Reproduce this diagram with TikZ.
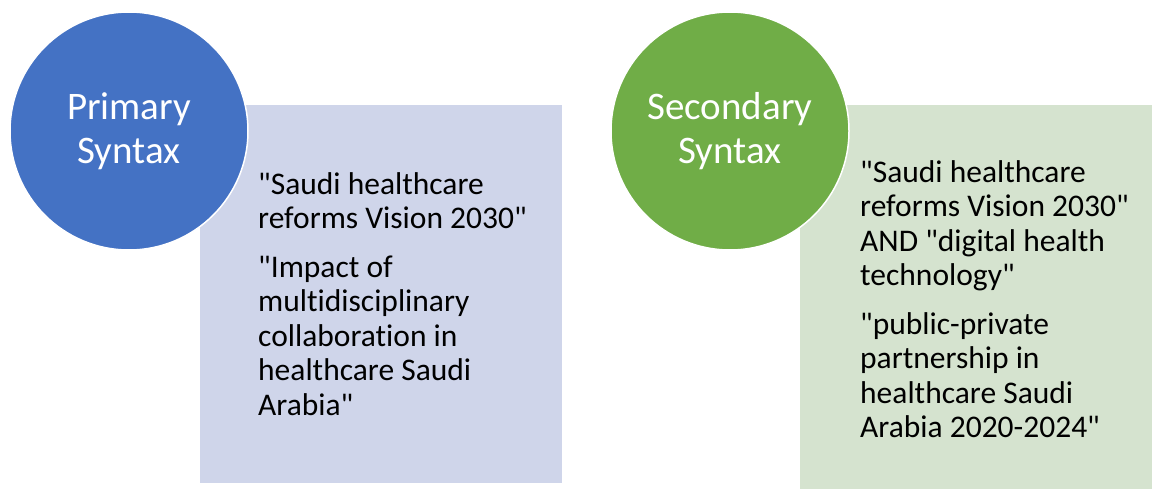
\documentclass[tikz,border=0pt]{standalone}
\usepackage{fontspec}
\setmainfont{Carlito}[Ligatures={NoCommon,NoRequired,NoContextual},Mapping=]
\definecolor{circblue}{HTML}{4472C4}
\definecolor{circgreen}{HTML}{70AD47}
\definecolor{boxblue}{HTML}{CFD5EA}
\definecolor{boxgreen}{HTML}{D5E3CF}
\newcommand\qq{\symbol{34}}
\begin{document}
\begin{tikzpicture}[x=1pt,y=-1pt,
  badge/.style={circle,draw=white,line width=1.5pt,minimum size=238pt,inner sep=0pt,
    text=white,align=center,font=\fontsize{39}{44}\selectfont},
  terms/.style={anchor=west,align=left,inner sep=0pt,text=black,
    font=\fontsize{31.5}{34.5}\selectfont}]
  \useasboundingbox[fill=white] (0,0) rectangle (1152,489);
  % left group
  \fill[boxblue] (200,105) rectangle (562,483);
  \node[badge,fill=circblue] (prim) at (129,131) {Primary\\Syntax};
  \node[terms] (primterms) at (258,294) {\qq Saudi healthcare\\reforms Vision 2030\qq\\[14pt]\qq Impact of\\multidisciplinary\\collaboration in\\healthcare Saudi\\Arabia\qq};
  % right group
  \fill[boxgreen] (800,105) rectangle (1152,489);
  \node[badge,fill=circgreen] (sec) at (730,131) {Secondary\\Syntax};
  \node[terms] (secterms) at (860,299) {\qq Saudi healthcare\\reforms Vision 2030\qq\\AND \qq digital health\\technology\qq\\[14pt]\qq public-private\\partnership in\\healthcare Saudi\\Arabia 2020-2024\qq};
\end{tikzpicture}
\end{document}
